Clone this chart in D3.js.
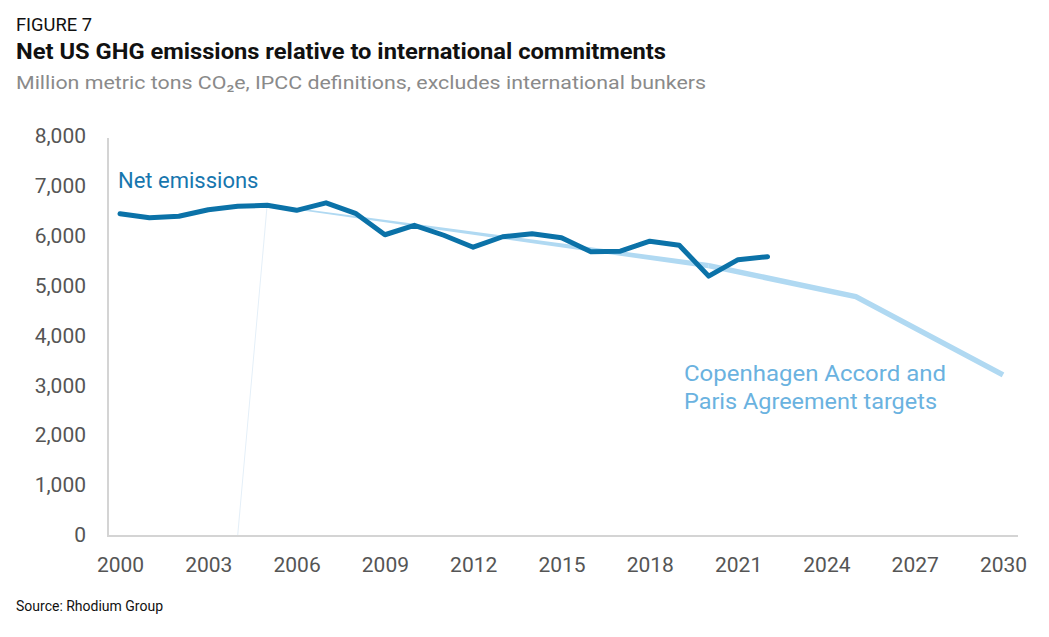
<!DOCTYPE html>
<html><head><meta charset="utf-8">
<script src="https://cdn.jsdelivr.net/npm/d3@7/dist/d3.min.js"></script>
<style>body{margin:0;background:#fff}svg{display:block}text{font-family:Roboto,"Open Sans",sans-serif}</style>
</head><body><svg id="c" width="1049" height="637"></svg>
<script>
const netYears = [2000,2001,2002,2003,2004,2005,2006,2007,2008,2009,2010,2011,2012,2013,2014,2015,2016,2017,2018,2019,2020,2021,2022];
const netValues = [6440,6360,6390,6520,6590,6610,6510,6660,6450,6020,6210,6010,5770,5980,6040,5960,5680,5690,5890,5810,5190,5520,5580];
const targetYears = [2005,2020,2025,2030];
const targetValues = [6620,5400,4780,3210];
const artifactYears = [2004,2005];
const artifactValues = [0,6620];
const xTicks = [2000,2003,2006,2009,2012,2015,2018,2021,2024,2027,2030];
const yTicks = [0,1000,2000,3000,4000,5000,6000,7000,8000];

const svg = d3.select('#c');
const x = d3.scaleLinear().domain([2000,2030]).range([120,1003]);
const y = d3.scaleLinear().domain([0,8000]).range([535,136]);

// titles
svg.append('text').attr('x',16).attr('y',31).attr('font-size',18).attr('fill','#111')
  .attr('textLength',76).attr('lengthAdjust','spacingAndGlyphs').text('FIGURE 7');
svg.append('text').attr('x',16).attr('y',59).attr('font-size',22).attr('font-weight','bold').attr('fill','#111')
  .attr('textLength',650).attr('lengthAdjust','spacingAndGlyphs').text('Net US GHG emissions relative to international commitments');
svg.append('text').attr('x',16).attr('y',89).attr('font-size',19).attr('fill','#8a8a8a')
  .attr('textLength',690).attr('lengthAdjust','spacingAndGlyphs').text('Million metric tons CO\u2082e, IPCC definitions, excludes international bunkers');

// axes
const yAxis = d3.axisLeft(y).tickValues(yTicks).tickSize(0).tickPadding(22).tickFormat(d3.format(','));
const gy = svg.append('g').attr('transform','translate(108,0)').call(yAxis);
gy.select('.domain').remove();
gy.selectAll('text').attr('font-size',21).attr('fill','#555').style('font-family','Roboto,sans-serif');
svg.append('line').attr('x1',108).attr('x2',108).attr('y1',138).attr('y2',536).attr('stroke','#d4d4d4').attr('stroke-width',2);

const xAxis = d3.axisBottom(x).tickValues(xTicks).tickSize(0).tickPadding(21).tickFormat(d3.format('d'));
const gx = svg.append('g').attr('transform','translate(0,536)').call(xAxis);
gx.select('.domain').remove();
gx.selectAll('text').attr('font-size',21).attr('fill','#555').style('font-family','Roboto,sans-serif');
svg.append('line').attr('x1',107).attr('x2',1018).attr('y1',536).attr('y2',536).attr('stroke','#d4d4d4').attr('stroke-width',2);

const line = d3.line().x(d=>x(d[0])).y(d=>y(d[1]));

// faint artifact segment
svg.append('path').datum(artifactYears.map((d,i)=>[d,artifactValues[i]]))
  .attr('d',line).attr('fill','none').attr('stroke','#e4eff8').attr('stroke-width',1);

// target: tapered first segment then thick
const tp = targetYears.map((d,i)=>[d,targetValues[i]]);
(function(){
  const a = tp[0], b = tp[1];
  const x0=x(a[0]), y0=y(a[1]), x1=x(b[0]), y1=y(b[1]);
  const dx=x1-x0, dy=y1-y0, L=Math.hypot(dx,dy), nx=-dy/L, ny=dx/L;
  const w0=0.6, w1=2.7;
  const pts=[[x0+nx*w0,y0+ny*w0],[x1+nx*w1,y1+ny*w1],[x1-nx*w1,y1-ny*w1],[x0-nx*w0,y0-ny*w0]];
  svg.append('path').attr('d','M'+pts.map(p=>p.join(',')).join('L')+'Z').attr('fill','#b0d9f2');
})();
svg.append('path').datum(tp.slice(1)).attr('d',line).attr('fill','none')
  .attr('stroke','#b0d9f2').attr('stroke-width',5.5).attr('stroke-linejoin','round');

// net emissions
svg.append('path').datum(netYears.map((d,i)=>[d,netValues[i]]))
  .attr('d',line).attr('fill','none').attr('stroke','#0b72a8').attr('stroke-width',5)
  .attr('stroke-linejoin','round').attr('stroke-linecap','round');

// labels
svg.append('text').attr('x',118).attr('y',188).attr('font-size',22).attr('fill','#1776ae').text('Net emissions');
svg.append('text').attr('x',684).attr('y',381).attr('font-size',22).attr('fill','#6ab2e0')
  .attr('textLength',262).attr('lengthAdjust','spacingAndGlyphs').text('Copenhagen Accord and');
svg.append('text').attr('x',684).attr('y',409).attr('font-size',22).attr('fill','#6ab2e0')
  .attr('textLength',253).attr('lengthAdjust','spacingAndGlyphs').text('Paris Agreement targets');

svg.append('text').attr('x',16).attr('y',611).attr('font-size',14).attr('fill','#111').text('Source: Rhodium Group');
</script></body></html>
